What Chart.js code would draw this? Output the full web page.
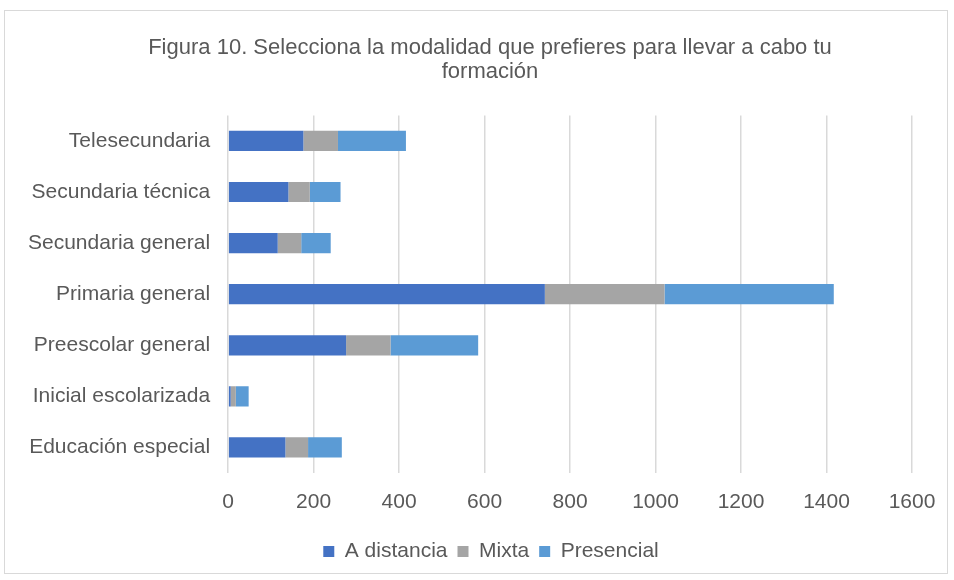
<!DOCTYPE html>
<html>
<head>
<meta charset="utf-8">
<script src="https://cdn.jsdelivr.net/npm/chart.js@4"></script>
<style>
  body { margin: 0; background: #fff; }
  #wrap { position: absolute; left: 4px; top: 10px; width: 944px; height: 564px; border: 1px solid #d9d9d9; box-sizing: border-box; }
</style>
</head>
<body>
<div id="wrap"></div>
<canvas id="chart" width="954" height="580" style="position:absolute;left:0;top:0"></canvas>
<script>
const categories = ["Telesecundaria", "Secundaria técnica", "Secundaria general", "Primaria general", "Preescolar general", "Inicial escolarizada", "Educación especial"];
const aDistancia = [176, 141, 116, 741, 276, 6, 134];
const mixta = [81, 50, 55, 280, 104, 12, 53];
const presencial = [159, 72, 69, 396, 205, 30, 79];

const textColor = "#595959";
const font = "'Liberation Sans', Arial, sans-serif";

// title and legend in the original are centred a bit right of the whole-chart centre
const shiftBlocks = {
    id: "shiftBlocks",
    afterLayout(chart) {
        if (chart.titleBlock) chart.titleBlock.left = 68;
        if (chart.legend) chart.legend.left = 70;
    }
};

const ctx = document.getElementById("chart").getContext("2d");
new Chart(ctx, {
    type: "bar",
    data: {
        labels: categories,
        datasets: [
            { label: "A distancia", data: aDistancia, backgroundColor: "#4472C4" },
            { label: "Mixta", data: mixta, backgroundColor: "#A5A5A5" },
            { label: "Presencial", data: presencial, backgroundColor: "#5B9BD5" }
        ]
    },
    options: {
        indexAxis: "y",
        responsive: false,
        animation: false,
        barPercentage: 0.395,
        categoryPercentage: 1,
        layout: { padding: { left: 10, right: 42, top: 7, bottom: 8 } },
        plugins: {
            title: {
                display: true,
                text: ["Figura 10. Selecciona la modalidad que prefieres para llevar a cabo tu", "formación"],
                color: textColor,
                font: { family: font, size: 22, weight: "normal", lineHeight: 1.1 },
                padding: { top: 29, bottom: 31 }
            },
            legend: {
                position: "bottom",
                labels: {
                    color: textColor,
                    font: { family: font, size: 21 },
                    boxWidth: 11,
                    boxHeight: 11,
                    padding: 10
                }
            },
            tooltip: { enabled: false }
        },
        scales: {
            x: {
                stacked: true,
                min: 0,
                max: 1600,
                afterFit: (scale) => { scale.height = 58; },
                ticks: {
                    stepSize: 200,
                    color: textColor,
                    font: { family: font, size: 21, lineHeight: 1.2 },
                    padding: 17,
                    callback: (v) => String(v)
                },
                grid: { color: "#d9d9d9", lineWidth: 1.5, drawTicks: false },
                border: { display: false }
            },
            y: {
                stacked: true,
                ticks: { color: textColor, font: { family: font, size: 21 }, padding: 18 },
                grid: { display: false, drawTicks: false },
                border: { display: false }
            }
        }
    },
    plugins: [shiftBlocks]
});
</script>
</body>
</html>
